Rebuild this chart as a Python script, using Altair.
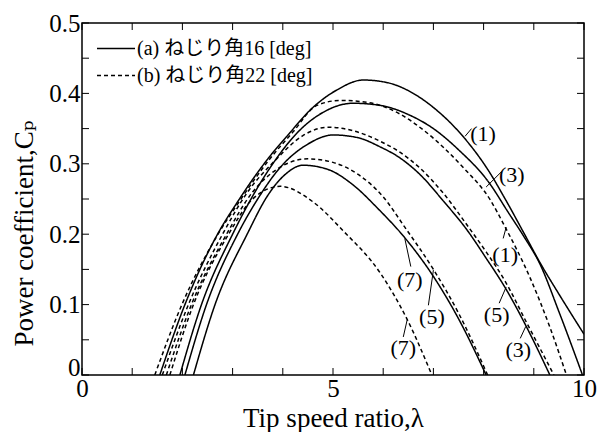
import altair as alt
import pandas as pd

# ---- curve data (tip speed ratio, power coefficient) ----
s1_x = [1.55, 2.05, 2.7, 3.09, 3.68, 4.14, 4.54, 5.08, 5.6, 6.1, 6.47, 7.0, 7.6, 8.1, 8.43, 8.8, 9.12, 9.5, 10.0]
s1_y = [0, 0.1, 0.2, 0.245, 0.305, 0.344, 0.376, 0.405, 0.419, 0.415, 0.405, 0.38, 0.338, 0.29, 0.25, 0.202, 0.16, 0.115, 0.058]
s3_x = [1.95, 2.38, 3.0, 3.8, 4.3, 4.8, 5.4, 5.94, 6.5, 7.0, 7.5, 8.1, 8.5, 8.8, 9.12, 9.5, 9.97]
s3_y = [0, 0.1, 0.2, 0.3, 0.345, 0.373, 0.386, 0.383, 0.37, 0.35, 0.32, 0.274, 0.23, 0.197, 0.158, 0.09, 0]
s5_x = [2.05, 2.48, 3.1, 3.5, 3.95, 4.5, 5.0, 5.5, 5.94, 6.3, 6.73, 7.2, 7.67, 8.05, 8.43, 8.9, 9.32]
s5_y = [0, 0.1, 0.2, 0.25, 0.295, 0.328, 0.341, 0.337, 0.324, 0.31, 0.285, 0.247, 0.206, 0.166, 0.124, 0.062, 0]
s7_x = [2.22, 2.65, 3.29, 3.7, 4.05, 4.4, 4.9, 5.4, 5.9, 6.43, 7.0, 7.5, 8.05]
s7_y = [0, 0.1, 0.2, 0.255, 0.285, 0.298, 0.292, 0.27, 0.236, 0.195, 0.14, 0.08, 0]

d1_x = [1.45, 1.99, 2.71, 3.12, 3.72, 4.2, 4.68, 5.15, 5.7, 6.3, 6.8, 7.59, 8.13, 8.43, 8.92, 9.32, 9.65]
d1_y = [0, 0.1, 0.2, 0.245, 0.305, 0.345, 0.383, 0.39, 0.387, 0.372, 0.348, 0.295, 0.249, 0.21, 0.139, 0.068, 0]
d3_x = [1.6, 2.12, 2.8, 3.3, 3.85, 4.4, 4.9, 5.4, 5.94, 6.3, 6.73, 7.2, 7.67, 8.05, 8.43, 8.86, 9.4]
d3_y = [0, 0.1, 0.2, 0.26, 0.305, 0.34, 0.352, 0.347, 0.332, 0.318, 0.294, 0.258, 0.213, 0.175, 0.133, 0.074, 0]
d5_x = [1.68, 2.18, 2.88, 3.4, 3.9, 4.5, 5.0, 5.5, 6.0, 6.43, 7.0, 7.5, 8.08]
d5_y = [0, 0.1, 0.2, 0.26, 0.293, 0.307, 0.302, 0.285, 0.253, 0.21, 0.15, 0.088, 0]
d7_x = [1.75, 2.22, 2.92, 3.4, 3.95, 4.6, 5.2, 5.94, 6.47, 6.97]
d7_y = [0, 0.1, 0.2, 0.25, 0.268, 0.246, 0.205, 0.145, 0.08, 0]

SER_A = "(a) ねじり角16 [deg]"
SER_B = "(b) ねじり角22 [deg]"

curves = [
    (SER_A, "S1", s1_x, s1_y), (SER_A, "S3", s3_x, s3_y),
    (SER_A, "S5", s5_x, s5_y), (SER_A, "S7", s7_x, s7_y),
    (SER_B, "D1", d1_x, d1_y), (SER_B, "D3", d3_x, d3_y),
    (SER_B, "D5", d5_x, d5_y), (SER_B, "D7", d7_x, d7_y),
]
rows = []
for ser, cid, xs, ys in curves:
    for xv, yv in zip(xs, ys):
        rows.append({"series": ser, "curve": cid, "x": xv, "y": yv})
df = pd.DataFrame(rows)

# ---- curve annotations (data coordinates) ----
ann_text = ["(1)", "(3)", "(1)", "(5)", "(3)", "(7)", "(5)", "(7)"]
ann_x = [7.99, 8.56, 8.43, 8.26, 8.69, 6.53, 6.97, 6.40]
ann_y = [0.343, 0.284, 0.170, 0.085, 0.036, 0.135, 0.083, 0.038]
lead_x1 = [7.76, 8.36, 8.39, 8.31, 8.73, 6.55, 6.90, 6.40]
lead_y1 = [0.350, 0.289, 0.194, 0.102, 0.052, 0.154, 0.099, 0.054]
lead_x2 = [7.63, 8.05, 8.45, 8.45, 8.84, 6.43, 7.00, 6.48]
lead_y2 = [0.339, 0.267, 0.210, 0.125, 0.069, 0.194, 0.149, 0.079]
ann = pd.DataFrame({"x": ann_x, "y": ann_y, "t": ann_text,
                    "x1": lead_x1, "y1": lead_y1, "x2": lead_x2, "y2": lead_y2})

# ---- tick positions ----
xticks = pd.DataFrame({"x": [0, 1, 2, 3, 4, 5, 6, 7, 8, 9, 10]})
yticks = pd.DataFrame({"y": [0, 0.05, 0.1, 0.15, 0.2, 0.25, 0.3, 0.35, 0.4, 0.45, 0.5]})

W, H = 502, 352
FONT = "Liberation Serif, DejaVu Serif, Noto Sans CJK JP, serif"
TL = 7

xscale = alt.Scale(domain=[0, 10], nice=False, zero=False)
yscale = alt.Scale(domain=[0, 0.5], nice=False, zero=False)
XT = "Tip speed ratio,λ"
YT = "Power coefficient,Cₚ"
x_axis = alt.Axis(values=[0, 5, 10], format="d", labelFlush=False, labelPadding=1,
                  titleY=43, titleBaseline="middle")
y_axis = alt.Axis(values=[0, 0.1, 0.2, 0.3, 0.4, 0.5], format="~g", labelPadding=2,
                  labelBaseline={"condition": {"test": "datum.value == 0", "value": "alphabetic"},
                                 "value": "middle"},
                  titleX=-58, titleY=210, titleBaseline="middle", titleAngle=270)


def X(field="x"):
    return alt.X(f"{field}:Q", scale=xscale, axis=x_axis, title=XT)


def Y(field="y"):
    return alt.Y(f"{field}:Q", scale=yscale, axis=y_axis, title=YT)


lines = alt.Chart(df).mark_line(color="black", strokeWidth=1.5, interpolate="monotone", clip=True).encode(
    x=X(), y=Y(),
    strokeDash=alt.StrokeDash("series:N",
                              scale=alt.Scale(domain=[SER_A, SER_B], range=[[1, 0], [4, 3]]),
                              legend=alt.Legend(title=None, orient="none", legendX=14, legendY=12,
                                                symbolType="stroke", symbolSize=1444,
                                                symbolStrokeWidth=1.5, symbolStrokeColor="black",
                                                labelFont=FONT, labelFontSize=20, labelColor="black",
                                                labelLimit=400, labelOffset=1, clipHeight=27,
                                                padding=0, rowPadding=0, symbolOffset=0)),
    detail="curve:N",
)

tb = alt.Chart(xticks).mark_rule(color="black", strokeWidth=1).encode(
    x=X(), y=alt.value(H), y2=alt.value(H - TL))
tt = alt.Chart(xticks).mark_rule(color="black", strokeWidth=1).encode(
    x=X(), y=alt.value(0), y2=alt.value(TL))
tl = alt.Chart(yticks).mark_rule(color="black", strokeWidth=1).encode(
    y=Y(), x=alt.value(0), x2=alt.value(TL))
tr = alt.Chart(yticks).mark_rule(color="black", strokeWidth=1).encode(
    y=Y(), x=alt.value(W), x2=alt.value(W - TL))

leaders = alt.Chart(ann).mark_rule(color="black", strokeWidth=1).encode(
    x=X("x1"), y=Y("y1"), x2="x2:Q", y2="y2:Q")
labels = alt.Chart(ann).mark_text(font=FONT, fontSize=22, color="black",
                                  align="center", baseline="middle").encode(
    x=X(), y=Y(), text="t:N")

chart = alt.layer(lines, tb, tt, tl, tr, leaders, labels).properties(
    width=W, height=H,
    autosize=alt.AutoSizeParams(type="none"),
    padding={"left": 82, "top": 23, "right": 14, "bottom": 57},
    background="white",
).configure_view(stroke="black", strokeWidth=1.5).configure_axis(
    grid=False, ticks=False, domain=False,
    labelFont=FONT, labelFontSize=25, labelColor="black",
    titleFont=FONT, titleFontSize=27, titleColor="black", titleFontWeight="normal",
)

chart.save("out.html", embed_options={"renderer": "svg", "actions": False})
